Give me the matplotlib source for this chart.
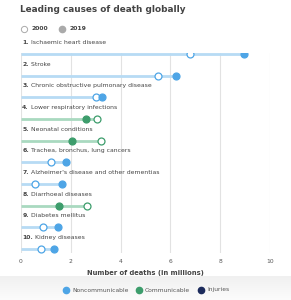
import matplotlib.pyplot as plt
import numpy as np

# Data
causes = ["Ischaemic heart disease", "Stroke", "Chronic obstructive pulmonary disease",
          "Lower respiratory infections", "Neonatal conditions",
          "Trachea, bronchus, lung cancers", "Alzheimer's disease and other dementias",
          "Diarrhoeal diseases", "Diabetes mellitus", "Kidney diseases"]
deaths_2000 = [6.78, 5.49, 3.00, 3.06, 3.20, 1.20, 0.57, 2.65, 0.87, 0.80]
deaths_2019 = [8.94, 6.22, 3.24, 2.60, 2.04, 1.79, 1.63, 1.53, 1.49, 1.33]
groups = ["Noncommunicable", "Noncommunicable", "Noncommunicable", "Communicable",
          "Communicable", "Noncommunicable", "Noncommunicable", "Communicable",
          "Noncommunicable", "Noncommunicable"]
legend_groups = ["Noncommunicable", "Communicable", "Injuries"]

# colours per group: (marker, light line)
colors = {"Noncommunicable": ("#4ea5e6", "#b7dbf4"),
          "Communicable": ("#3d9d6c", "#a9d9c0"),
          "Injuries": ("#1c2b5c", "#9aa3bd")}

fig = plt.figure(figsize=(2.91, 3.0), dpi=100)
W, H = 291, 300

# grey band at the bottom behind legend
band = fig.add_axes([0, 0, 1, 24 / H])
grad = np.linspace(0, 1, 50).reshape(-1, 1)
band.imshow(grad, aspect="auto", cmap=plt.matplotlib.colors.LinearSegmentedColormap.from_list(
    "g", ["#f0f0f0", "#fcfcfc"]), extent=[0, 1, 0, 1])
band.axis("off")

ax = fig.add_axes([21 / W, 1 - 253 / H, 249 / W, 200 / H])
ax.set_xlim(0, 10)
ax.set_ylim(9.18, -0.05)
for s in ax.spines.values():
    s.set_visible(False)
ax.set_xticks(range(0, 11, 2))
ax.tick_params(axis="x", length=0, labelsize=4.3, labelcolor="#555555", pad=4)
ax.set_yticks([])
ax.grid(axis="x", color="#e2e2e2", lw=0.8)
ax.set_axisbelow(True)

fig.canvas.draw()
for i, name in enumerate(causes):
    mc, lc = colors[groups[i]]
    hi = max(deaths_2000[i], deaths_2019[i])
    ax.plot([0, hi], [i, i], color=lc, lw=2.0, solid_capstyle="butt", zorder=2)
    ax.plot(deaths_2000[i], i, "o", ms=5, mfc="white", mec=mc, mew=0.9, zorder=3)
    ax.plot(deaths_2019[i], i, "o", ms=5, mfc=mc, mec=mc, mew=0.9, zorder=4)
    num = ax.text(0.05, i - 0.42, f"{i + 1}.", fontsize=4.4, fontweight="bold",
                  color="#444444", va="bottom", ha="left", clip_on=False)
    ax.annotate(" " + name, xy=(1, 0), xycoords=num, fontsize=4.4, color="#444444",
                va="bottom", ha="left", annotation_clip=False)

ax.set_xlabel("Number of deaths (in millions)", fontsize=4.9, fontweight="bold",
              color="#444444", labelpad=5)

# title
fig.text(20 / W, 1 - 9 / H, "Leading causes of death globally", fontsize=6.4,
         fontweight="bold", color="#444444", va="center", ha="left")

# year legend
fig.lines.append(plt.Line2D([24 / W], [1 - 29 / H], marker="o", ms=4.5, mfc="white",
                            mec="#aaaaaa", mew=0.7, transform=fig.transFigure))
fig.text(31 / W, 1 - 29 / H, "2000", fontsize=4.4, fontweight="bold", color="#444444",
         va="center", ha="left")
fig.lines.append(plt.Line2D([62 / W], [1 - 29 / H], marker="o", ms=4.5, mfc="#aaaaaa",
                            mec="#aaaaaa", transform=fig.transFigure))
fig.text(69 / W, 1 - 29 / H, "2019", fontsize=4.4, fontweight="bold", color="#444444",
         va="center", ha="left")

# group legend
xs = [66, 139, 201]
for x, g in zip(xs, legend_groups):
    fig.lines.append(plt.Line2D([x / W], [1 - 290 / H], marker="o", ms=4.5,
                                mfc=colors[g][0], mec=colors[g][0],
                                transform=fig.transFigure))
    fig.text((x + 6) / W, 1 - 290 / H, g, fontsize=4.3, color="#555555",
             va="center", ha="left")

fig.savefig("out.png", dpi=100)
